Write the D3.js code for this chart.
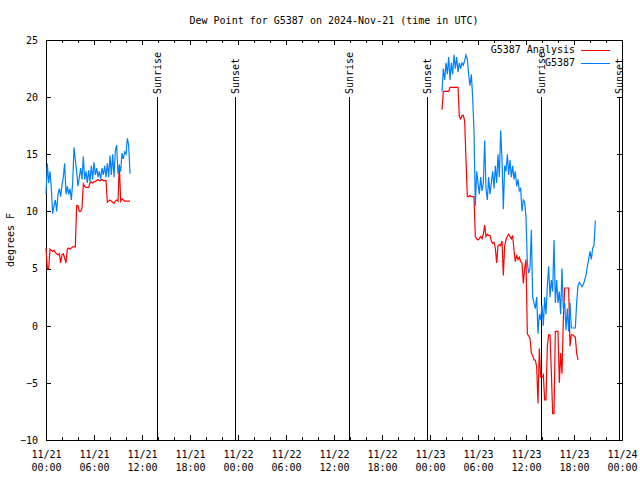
<!DOCTYPE html>
<html>
<head>
<meta charset="utf-8">
<script src="https://cdn.jsdelivr.net/npm/d3@7"></script>
<style>
  body { margin: 0; background: #fff; }
  svg { display: block; }
  text { font-family: "DejaVu Sans Mono", "Liberation Mono", monospace; font-size: 10px; fill: #000; }
</style>
</head>
<body>
<svg id="chart" width="640" height="480"></svg>
<script>
// ---------------- DATA ----------------
const chartTitle = "Dew Point for G5387 on 2024-Nov-21 (time in UTC)";
const yAxisLabel = "degrees F";
const yTickValues = [-10, -5, 0, 5, 10, 15, 20, 25];
const xDomain = ["2024-11-21T00:00:00Z", "2024-11-24T00:00:00Z"];
const xMajorTickTimes = [
  "2024-11-21T00:00:00Z", "2024-11-21T06:00:00Z", "2024-11-21T12:00:00Z", "2024-11-21T18:00:00Z",
  "2024-11-22T00:00:00Z", "2024-11-22T06:00:00Z", "2024-11-22T12:00:00Z", "2024-11-22T18:00:00Z",
  "2024-11-23T00:00:00Z", "2024-11-23T06:00:00Z", "2024-11-23T12:00:00Z", "2024-11-23T18:00:00Z",
  "2024-11-24T00:00:00Z"
];
const sunLabels = ["Sunrise", "Sunset", "Sunrise", "Sunset", "Sunrise", "Sunset"];
const sunTimes = [
  "2024-11-21T13:52:00Z", "2024-11-21T23:37:00Z",
  "2024-11-22T13:52:00Z", "2024-11-22T23:37:00Z",
  "2024-11-23T13:52:00Z", "2024-11-23T23:37:00Z"
];
const seriesNames = ["G5387 Analysis", "G5387"];
const seriesColors = ["#ff0000", "#0080ff"];
const sampleMinutes = 10;

// Analysis (red), segment 1 and 2
const analysis1Start = "2024-11-21T00:00:00Z";
const analysis1 = [6.8,5.0,5.0,6.7,6.6,6.5,6.6,6.4,6.3,6.2,
  6.3,5.5,6.2,6.3,5.9,5.5,6.7,6.8,6.7,6.8,
  6.9,6.9,6.9,10.5,10.5,10.0,10.0,10.3,12.4,12.2,
  12.1,12.1,12.1,12.5,12.6,12.5,12.6,12.6,12.7,12.8,
  12.7,12.7,12.8,12.7,12.7,12.7,10.8,10.9,11.0,10.9,
  10.8,10.7,10.9,11.0,10.9,14.1,10.9,11.1,11.0,10.9,
  10.9,10.9,10.9,10.9];
const analysis2Start = "2024-11-23T01:30:00Z";
const analysis2 = [18.9,20.5,20.5,
  20.5,20.5,20.5,20.86,20.86,20.86,
  20.86,20.86,20.86,20.86,18.3,18.1,
  18.4,18.4,17.9,14.5,11.3,11.3,
  11.4,11.3,11.3,11.3,7.8,7.6,
  7.5,7.6,7.8,7.6,8.0,8.8,
  7.8,8.0,7.9,7.9,7.4,7.2,
  7.3,6.8,5.5,7.0,7.1,7.0,
  7.4,4.4,7.0,7.5,7.8,8.0,
  7.8,7.6,7.9,6.6,5.6,6.2,
  5.8,6.0,5.6,5.5,3.7,5.0,
  5.8,-0.7,-0.9,-1.1,-2.4,-2.6,
  -3.0,-3.0,-3.6,-6.8,-2.0,-4.5,
  -4.5,-4.3,-6.5,-6.5,-1.8,-0.8,
  -0.8,-4.0,-7.7,-7.7,-0.5,-0.5,
  -0.5,-5.0,-2.4,-4.2,0.5,3.3,
  3.3,3.3,3.3,-1.8,-0.8,-0.8,
  -0.9,-1.0,-2.4,-3.0];

// Observations (blue), segment 1 and 2
const obs1Start = "2024-11-21T00:00:00Z";
const obs1 = [11.5,14.2,12.5,13.5,12.0,9.8,10.5,11.0,10.0,11.5,
  12.0,11.3,12.3,13.0,14.2,11.5,12.2,11.5,12.0,11.0,
  12.5,15.6,14.5,13.5,12.2,13.0,13.8,12.8,14.8,12.8,
  13.5,12.5,13.6,12.6,14.0,12.8,14.3,13.2,13.8,13.0,
  13.5,12.8,13.8,13.2,14.0,13.0,14.2,13.0,14.9,13.2,
  15.0,13.0,15.3,15.8,13.3,14.0,13.5,15.1,14.6,15.2,
  15.0,16.4,15.8,13.3];
const obs2Start = "2024-11-23T01:30:00Z";
const obs2 = [20.5,22.5,21.5,
  23.0,22.0,23.5,21.5,23.0,22.0,
  23.7,22.5,23.5,22.2,23.0,22.5,
  23.0,22.8,23.2,23.7,23.3,22.0,
  21.0,22.0,20.0,17.0,10.5,13.5,
  12.5,11.5,13.0,11.8,12.5,16.2,
  12.0,11.0,13.0,11.5,12.5,13.5,
  12.0,14.0,12.5,15.0,13.0,17.1,
  14.5,10.2,14.0,13.5,15.0,13.2,
  14.5,13.0,14.0,12.8,13.5,12.2,
  12.8,11.8,12.0,10.0,11.0,10.8,
  9.5,5.5,4.6,5.0,8.4,2.5,
  2.0,1.5,2.5,-0.7,1.0,0.5,
  1.8,0.0,2.5,1.0,3.5,5.2,
  2.5,4.0,3.0,7.5,2.0,4.0,
  2.0,3.0,1.0,5.0,1.5,2.0,
  -0.4,1.5,-0.5,2.0,-0.2,-0.2,
  -0.2,-0.2,2.0,3.5,3.8,3.6,
  3.4,3.6,4.0,4.4,5.2,5.8,
  6.5,5.8,6.8,7.0,9.2];

// ---------------- CHART ----------------
const svg = d3.select("#chart");
const L = 46, R = 622, T = 40, B = 440;

const x = d3.scaleUtc().domain(xDomain.map(d => new Date(d))).range([L, R]);
const y = d3.scaleLinear().domain([-10, 25]).range([B, T]);

const stepMs = sampleMinutes * 60 * 1000;
function toSeries(start, vals) {
  const t0 = +new Date(start);
  return vals.map((v, i) => ({ t: new Date(t0 + i * stepMs), v }));
}
const analysisSegs = [toSeries(analysis1Start, analysis1), toSeries(analysis2Start, analysis2)];
const obsSegs = [toSeries(obs1Start, obs1), toSeries(obs2Start, obs2)];

const majorTicks = xMajorTickTimes.map(d => new Date(d));
const minorTicks = d3.utcHour.every(2).range(x.domain()[0], x.domain()[1]);

const axes = svg.append("g").attr("shape-rendering", "crispEdges");

// bottom major + labels
const fmtDate = d3.utcFormat("%m/%d"), fmtTime = d3.utcFormat("%H:%M");
const bottom = axes.append("g").attr("transform", `translate(0,${B})`)
  .call(d3.axisBottom(x).tickValues(majorTicks).tickSizeInner(-5).tickSizeOuter(0).tickFormat(() => ""));
bottom.select(".domain").remove();
bottom.selectAll(".tick text").each(function(d) {
  const t = d3.select(this).attr("y", 0).attr("dy", null).text(null);
  t.append("tspan").attr("x", 0).attr("y", 18).text(fmtDate(d));
  t.append("tspan").attr("x", 0).attr("y", 31).text(fmtTime(d));
});
bottom.selectAll(".tick text").attr("font-family", null).attr("font-size", null);
// bottom minor
axes.append("g").attr("transform", `translate(0,${B})`)
  .call(d3.axisBottom(x).tickValues(minorTicks).tickSize(-3).tickFormat(() => ""))
  .call(g => g.select(".domain").remove());
// top major + minor
axes.append("g").attr("transform", `translate(0,${T})`)
  .call(d3.axisTop(x).tickValues(majorTicks).tickSize(-5).tickFormat(() => ""))
  .call(g => g.select(".domain").remove());
axes.append("g").attr("transform", `translate(0,${T})`)
  .call(d3.axisTop(x).tickValues(minorTicks).tickSize(-3).tickFormat(() => ""))
  .call(g => g.select(".domain").remove());
// left
const left = axes.append("g").attr("transform", `translate(${L},0)`)
  .call(d3.axisLeft(y).tickValues(yTickValues).tickSize(-5).tickPadding(8).tickFormat(d3.format("d")));
left.select(".domain").remove();
left.selectAll(".tick text").attr("font-family", null).attr("font-size", null).attr("dy", "0.34em");
// right
axes.append("g").attr("transform", `translate(${R},0)`)
  .call(d3.axisRight(y).tickValues(yTickValues).tickSize(-5).tickFormat(() => ""))
  .call(g => g.select(".domain").remove());
axes.selectAll(".tick line").attr("stroke", "#000");

// border
axes.append("rect").attr("x", L + 0.5).attr("y", T + 0.5).attr("width", R - L).attr("height", B - T)
  .attr("fill", "none").attr("stroke", "#000");

// sunrise/sunset lines and labels
const sun = svg.append("g");
sunTimes.forEach((s, i) => {
  const sx = Math.round(x(new Date(s))) + 0.5;
  sun.append("line").attr("x1", sx).attr("x2", sx).attr("y1", y(20)).attr("y2", B)
    .attr("stroke", "#000").attr("stroke-width", 1.2).attr("shape-rendering", "crispEdges");
  sun.append("text").attr("transform", `translate(${sx + 3.5},94) rotate(-90)`)
    .attr("text-anchor", "start").text(sunLabels[i]);
});

// data lines
const line = d3.line().x(d => x(d.t)).y(d => y(d.v));
analysisSegs.forEach(seg => svg.append("path").datum(seg).attr("d", line)
  .attr("fill", "none").attr("stroke", seriesColors[0]).attr("stroke-width", 1.2));
obsSegs.forEach(seg => svg.append("path").datum(seg).attr("d", line)
  .attr("fill", "none").attr("stroke", seriesColors[1]).attr("stroke-width", 1.2));

// title & y label
svg.append("text").attr("x", (L + R) / 2).attr("y", 24).attr("text-anchor", "middle").text(chartTitle);
svg.append("text").attr("transform", `translate(14,240) rotate(-90)`).attr("text-anchor", "middle").text(yAxisLabel);

// legend
const leg = svg.append("g");
seriesNames.forEach((n, i) => {
  const ly = 50 + i * 12.7;
  leg.append("text").attr("x", 575).attr("y", ly).attr("dy", "0.33em").attr("text-anchor", "end").text(n);
  leg.append("line").attr("x1", 581).attr("x2", 610).attr("y1", Math.round(ly) + 0.5).attr("y2", Math.round(ly) + 0.5)
    .attr("stroke", seriesColors[i]).attr("stroke-width", 1).attr("shape-rendering", "crispEdges");
});
</script>
</body>
</html>
